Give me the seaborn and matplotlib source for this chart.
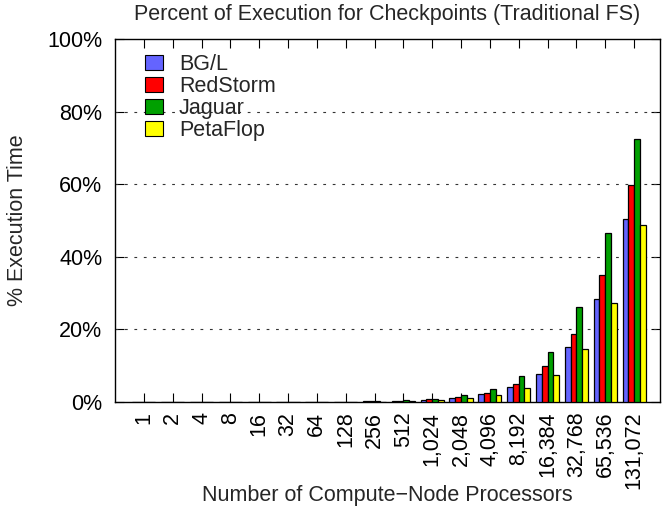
import numpy as np
import pandas as pd
import matplotlib
matplotlib.use("Agg")
import matplotlib.pyplot as plt
import seaborn as sns
from matplotlib.patches import Patch

# Processor counts (category labels)
processors = ["1", "2", "4", "8", "16", "32", "64", "128", "256", "512",
              "1,024", "2,048", "4,096", "8,192", "16,384", "32,768",
              "65,536", "131,072"]

systems = ["BG/L", "RedStorm", "Jaguar", "PetaFlop"]

# Percent of execution time spent checkpointing
bgl = [0.0006, 0.0011, 0.0022, 0.0045, 0.009, 0.018, 0.035, 0.07, 0.14, 0.28,
       0.55, 1.1, 2.1, 4.0, 7.8, 15.1, 28.3, 50.4]
redstorm = [0.0007, 0.0014, 0.0028, 0.0055, 0.011, 0.022, 0.045, 0.09, 0.18, 0.35,
            0.7, 1.4, 2.6, 5.0, 9.8, 18.8, 34.9, 59.8]
jaguar = [0.0009, 0.0019, 0.0037, 0.0075, 0.015, 0.03, 0.06, 0.12, 0.24, 0.48,
          0.95, 1.9, 3.7, 7.1, 13.8, 26.1, 46.6, 72.4]
petaflop = [0.0005, 0.001, 0.002, 0.004, 0.008, 0.016, 0.033, 0.065, 0.13, 0.26,
            0.5, 1.1, 1.9, 3.9, 7.4, 14.5, 27.4, 48.8]

colors = ["#6464ff", "#ff0000", "#00a000", "#ffff00"]

df = pd.DataFrame({
    "processors": processors * 4,
    "system": np.repeat(systems, len(processors)),
    "pct": bgl + redstorm + jaguar + petaflop,
})

sns.set_style("ticks")
plt.rcParams["font.family"] = ["Liberation Sans", "DejaVu Sans"]
FS = 15.5

fig, ax = plt.subplots(figsize=(6.63, 5.08), dpi=100)
fig.subplots_adjust(left=115 / 663, right=660 / 663, top=1 - 39 / 508, bottom=1 - 402 / 508)

sns.barplot(data=df, x="processors", y="pct", hue="system", order=processors,
            hue_order=systems, palette=colors, width=0.8, saturation=1,
            edgecolor="black", linewidth=0.9, legend=False, ax=ax, zorder=3)

ax.set_xlim(-1.0, 17.9)
ax.set_ylim(0, 100)
ax.set_yticks([0, 20, 40, 60, 80, 100])
ax.set_yticklabels([f"{v}%" for v in range(0, 101, 20)], fontsize=FS)
ax.set_xticks(range(len(processors)))
ax.set_xticklabels(processors, rotation=90, fontsize=FS)

for s in ax.spines.values():
    s.set_visible(True)
    s.set_color("black")
    s.set_linewidth(1.0)

ax.tick_params(axis="both", direction="in", length=6.5, width=0.8, color="black",
               top=True, right=True, labelcolor="black")
ax.tick_params(axis="x", pad=7)
ax.tick_params(axis="y", pad=9)

ax.grid(False)
for v in [20, 40, 60, 80]:
    ax.axhline(v, color="#333333", linewidth=0.8, linestyle=(0, (2.5, 6)), zorder=1)

ax.set_title("Percent of Execution for Checkpoints (Traditional FS)", fontsize=FS, pad=14)
ax.set_xlabel("Number of Compute\u2212Node Processors", fontsize=FS)
ax.set_ylabel("% Execution Time", fontsize=FS)
ax.xaxis.set_label_coords(0.5, -0.23)
ax.yaxis.set_label_coords(-0.16, 0.5)

handles = [Patch(facecolor=c, edgecolor="black", linewidth=0.8) for c in colors]
ax.legend(handles, systems, loc="upper left", bbox_to_anchor=(0.055, 0.958),
          frameon=False, fontsize=FS, handlelength=0.82, handleheight=0.7,
          handletextpad=0.75, labelspacing=0.05, borderpad=0, borderaxespad=0)

fig.savefig("out.png", dpi=100)
